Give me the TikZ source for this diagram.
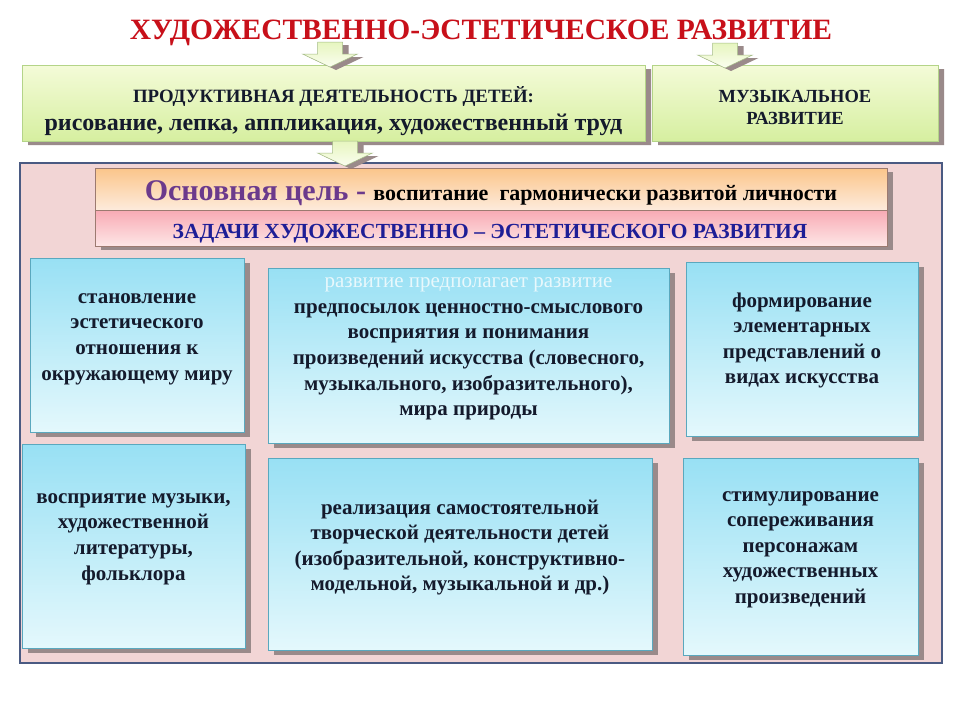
\documentclass[tikz,border=0pt]{standalone}
\usepackage{fontspec}
\setmainfont{Liberation Serif}
\usetikzlibrary{shapes.misc,shadows}

\definecolor{titlered}{HTML}{C8101A}
\definecolor{shadowgray}{HTML}{9A8A8A}
\definecolor{greentop}{HTML}{F4FBD8}
\definecolor{greenbot}{HTML}{D6EFA0}
\definecolor{greenedge}{HTML}{B4D488}
\definecolor{panelpink}{HTML}{F2D5D5}
\definecolor{paneledge}{HTML}{4A5A82}
\definecolor{orangetop}{HTML}{FBC58A}
\definecolor{orangebot}{HTML}{FDEBDC}
\definecolor{pinktop}{HTML}{F8AAB4}
\definecolor{pinkbot}{HTML}{FDE6E6}
\definecolor{baredge}{HTML}{9C7A70}
\definecolor{bluetop}{HTML}{98E0F4}
\definecolor{bluebot}{HTML}{E4F8FC}
\definecolor{blueedge}{HTML}{5AA8BE}
\definecolor{goalpurple}{HTML}{6B3A8C}
\definecolor{taskblue}{HTML}{1E1E96}
\definecolor{textdark}{HTML}{141A2C}
\definecolor{faintwhite}{HTML}{E8F8FC}

\tikzset{
    greenbox/.style={
        chamfered rectangle,
        chamfered rectangle corners={north west,north east},
        chamfered rectangle xsep=5pt,
        chamfered rectangle ysep=5pt,
        draw=greenedge, line width=1pt,
        top color=greentop, bottom color=greenbot,
        drop shadow={shadow xshift=6pt, shadow yshift=-4pt,
            fill=shadowgray, opacity=1},
        inner sep=0pt
    },
    barbox/.style={
        rectangle, draw=baredge, line width=0.6pt,
        minimum width=792pt, inner sep=0pt,
        drop shadow={shadow xshift=6pt, shadow yshift=-4pt,
            fill=shadowgray, opacity=1}
    },
    bluebox/.style={
        rectangle, draw=blueedge, line width=0.8pt,
        top color=bluetop, bottom color=bluebot,
        drop shadow={shadow xshift=6pt, shadow yshift=-5pt,
            fill=shadowgray, opacity=1},
        inner sep=0pt
    },
    boxtext/.style={
        align=center, text=textdark,
        font=\fontsize{21}{25.6}\selectfont\bfseries
    },
    blockarrow/.pic={
        \fill [shadowgray, shift={(6,3)}]
            (-12.5,0) -- (12.5,0) -- (12.5,12) -- (27.5,12) -- (0,25)
            -- (-27.5,12) -- (-12.5,12) -- cycle
            ;
        \draw [draw=greenedge!70!gray, line width=0.5pt,
            top color=greentop!55!greenbot, bottom color=greentop!40!white]
            (-12.5,0) -- (12.5,0) -- (12.5,12) -- (27.5,12) -- (0,25)
            -- (-27.5,12) -- (-12.5,12) -- cycle
            ;
    }
}

\begin{document}
\begin{tikzpicture}[x=1pt, y=-1pt]
    \fill [white]
        (0,0) rectangle (960,720)
        ;
    \useasboundingbox
        (0,0) rectangle (960,720)
        ;

    % title
    \node [text=titlered, font=\fontsize{29.5}{32}\selectfont\bfseries]
        (title) at (481,33)
            {ХУДОЖЕСТВЕННО-ЭСТЕТИЧЕСКОЕ РАЗВИТИЕ}
        ;

    % green boxes
    \node [greenbox, minimum width=623pt, minimum height=76pt]
        (prod) at (333.5,103) {}
        ;
    \node [greenbox, minimum width=286pt, minimum height=76pt]
        (music) at (795,103) {}
        ;
    \node [align=center, text=textdark]
        (prodtext) at (333.5,111)
            {\fontsize{18.8}{27}\selectfont\bfseries ПРОДУКТИВНАЯ ДЕЯТЕЛЬНОСТЬ ДЕТЕЙ:\\[6pt]
             \fontsize{24}{27}\selectfont\bfseries рисование, лепка, аппликация, художественный труд}
        ;
    \node [align=center, text=textdark,
           font=\fontsize{18.5}{22}\selectfont\bfseries]
        (musictext) at (795,107.5)
            {МУЗЫКАЛЬНОЕ\\РАЗВИТИЕ}
        ;

    % arrows
    \pic at (330,42) {blockarrow};
    \pic at (725,43) {blockarrow};

    % main panel
    \draw [draw=paneledge, line width=2.5pt, fill=panelpink]
        (20,163) rectangle (942,663)
        ;
    \pic at (345,141) {blockarrow};

    % goal and task bars
    \node [barbox, minimum height=42pt,
           top color=orangetop, bottom color=orangebot]
        (goal) at (491,189) {}
        ;
    \node [barbox, minimum height=36pt,
           top color=pinktop, bottom color=pinkbot]
        (tasks) at (491,228) {}
        ;
    \node [anchor=base]
        (goaltext) at (491,200)
            {\fontsize{30}{32}\selectfont\bfseries\textcolor{goalpurple}{Основная цель -}
             \fontsize{22}{24}\selectfont\bfseries воспитание\ \ гармонически развитой личности}
        ;
    \node [anchor=base, text=taskblue, font=\fontsize{21.5}{24}\selectfont\bfseries]
        (taskstext) at (490,238)
            {ЗАДАЧИ ХУДОЖЕСТВЕННО – ЭСТЕТИЧЕСКОГО РАЗВИТИЯ}
        ;

    % task boxes
    \node [bluebox, minimum width=214pt, minimum height=174pt]
        (b1) at (137,345) {}
        ;
    \node [bluebox, minimum width=401pt, minimum height=175pt]
        (b2) at (468.5,355.5) {}
        ;
    \node [bluebox, minimum width=232pt, minimum height=174pt]
        (b3) at (802,349) {}
        ;
    \node [bluebox, minimum width=223pt, minimum height=204pt]
        (b4) at (133.5,546) {}
        ;
    \node [bluebox, minimum width=384pt, minimum height=192pt]
        (b5) at (460,554) {}
        ;
    \node [bluebox, minimum width=235pt, minimum height=197pt]
        (b6) at (800.5,556.5) {}
        ;

    \node [boxtext]
        (t1) at ([yshift=6pt]b1.center)
            {становление\\эстетического\\отношения к\\окружающему миру}
        ;
    \node [boxtext]
        (t2) at ([yshift=6.5pt]b2.center)
            {\textcolor{faintwhite}{\mdseries развитие предполагает развитие}\\
             предпосылок ценностно-смыслового\\восприятия и понимания\\
             произведений искусства (словесного,\\
             музыкального, изобразительного),\\мира природы}
        ;
    \node [boxtext]
        (t3) at ([yshift=8.5pt]b3.center)
            {формирование\\элементарных\\представлений о\\видах искусства}
        ;
    \node [boxtext]
        (t4) at ([yshift=7pt]b4.center)
            {восприятие музыки,\\художественной\\литературы,\\фольклора}
        ;
    \node [boxtext]
        (t5) at ([yshift=6.5pt]b5.center)
            {реализация самостоятельной\\творческой деятельности детей\\
             (изобразительной, конструктивно-\\модельной, музыкальной и др.)}
        ;
    \node [boxtext]
        (t6) at ([yshift=7pt]b6.center)
            {стимулирование\\сопереживания\\персонажам\\художественных\\произведений}
        ;
\end{tikzpicture}
\end{document}
